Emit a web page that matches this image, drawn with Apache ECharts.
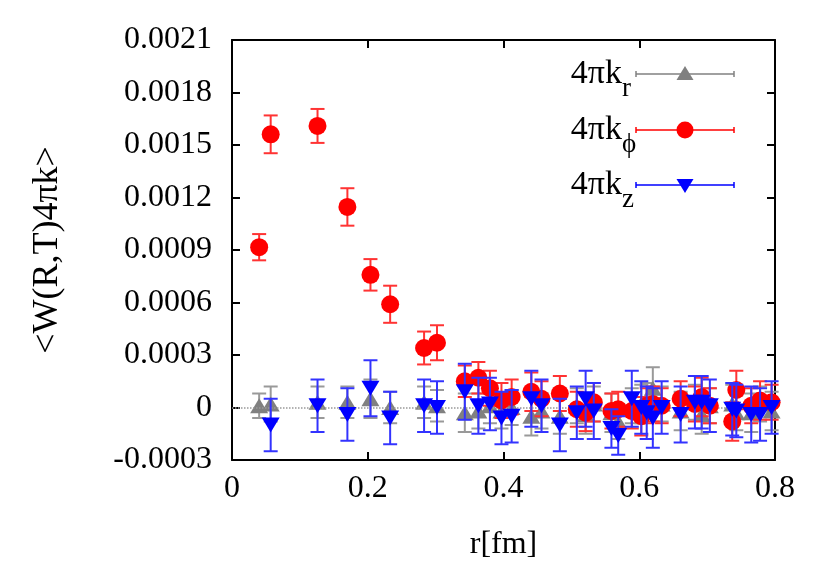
<!DOCTYPE html>
<html>
<head>
<meta charset="utf-8">
<script src="https://cdn.jsdelivr.net/npm/echarts@6/dist/echarts.min.js"></script>
<style>
  html, body { margin: 0; padding: 0; background: #fff; }
  .box { width: 830px; height: 566px; }
</style>
</head>
<body>
<div class="box"></div>
<script>
// r values (fm), shared by the three components
var rVals = [0.040, 0.057, 0.126, 0.170, 0.204, 0.233, 0.283, 0.302, 0.343, 0.363,
  0.380, 0.397, 0.412, 0.441, 0.456, 0.483, 0.508, 0.521, 0.533, 0.559,
  0.569, 0.589, 0.603, 0.611, 0.620, 0.633, 0.661, 0.682, 0.692, 0.704,
  0.737, 0.743, 0.765, 0.778, 0.795];

// 4πk_phi (red circles)
var kPhi = [0.000916, 0.001561, 0.001609, 0.001146, 0.000758, 0.000590, 0.000340, 0.000370, 0.000150, 0.000170,
  0.000110, 0.000040, 0.000060, 0.000090, 0.000050, 0.000080, -0.000010, -0.000030, 0.000030, -0.000020,
  -0.000010, -0.000020, -0.000050, 0.000010, 0.000020, 0.000010, 0.000050, 0.000020, 0.000060, 0.000010,
  -0.000080, 0.000100, 0.000010, 0.000040, 0.000030];
var kPhiErr = [0.000075, 0.000108, 0.000097, 0.000107, 0.000090, 0.000106, 0.000094, 0.000100, 0.000090, 0.000090,
  0.000100, 0.000100, 0.000100, 0.000110, 0.000100, 0.000100, 0.000100, 0.000105, 0.000110, 0.000100,
  0.000100, 0.000100, 0.000110, 0.000100, 0.000100, 0.000100, 0.000100, 0.000100, 0.000110, 0.000100,
  0.000110, 0.000110, 0.000100, 0.000110, 0.000100];

// 4πk_r (gray up triangles)
var kR = [0.000010, 0.000020, 0.000030, 0.000030, 0.000050, 0.000000, 0.000030, 0.000010, -0.000030, -0.000020,
  0.000010, -0.000020, 0.000000, -0.000050, -0.000020, -0.000050, 0.000010, -0.000040, 0.000020, -0.000030,
  -0.000080, 0.000010, 0.000020, 0.000040, 0.000110, 0.000020, -0.000020, 0.000030, -0.000040, 0.000010,
  0.000020, -0.000030, -0.000030, 0.000020, -0.000020];
var kRErr = [0.000070, 0.000100, 0.000090, 0.000090, 0.000110, 0.000090, 0.000090, 0.000090, 0.000110, 0.000100,
  0.000100, 0.000100, 0.000100, 0.000110, 0.000100, 0.000100, 0.000100, 0.000110, 0.000100, 0.000110,
  0.000100, 0.000100, 0.000110, 0.000100, 0.000120, 0.000100, 0.000110, 0.000100, 0.000110, 0.000100,
  0.000110, 0.000100, 0.000110, 0.000100, 0.000110];

// 4πk_z (blue down triangles)
var kZ = [null, -0.000100, 0.000010, -0.000040, 0.000110, -0.000060, 0.000010, 0.000000, 0.000090, 0.000010,
  0.000020, -0.000060, -0.000050, 0.000050, 0.000010, -0.000100, -0.000030, 0.000050, -0.000020, -0.000120,
  -0.000160, 0.000050, 0.000000, -0.000030, -0.000060, 0.000000, -0.000040, 0.000030, 0.000030, 0.000010,
  -0.000010, -0.000020, -0.000040, -0.000040, 0.000000];
var kZErr = [null, 0.000150, 0.000150, 0.000150, 0.000160, 0.000150, 0.000150, 0.000150, 0.000160, 0.000160,
  0.000150, 0.000150, 0.000150, 0.000160, 0.000150, 0.000150, 0.000150, 0.000160, 0.000160, 0.000110,
  0.000110, 0.000160, 0.000150, 0.000150, 0.000170, 0.000150, 0.000160, 0.000150, 0.000150, 0.000150,
  0.000150, 0.000150, 0.000160, 0.000150, 0.000150];

// axis ranges
var xMin = 0, xMax = 0.8, xStep = 0.2;
var yMin = -0.0003, yMax = 0.0021, yStep = 0.0003;

var fontFam = "'Liberation Serif', 'DejaVu Serif', serif";

function toData(vals, errs) {
  var out = [];
  for (var i = 0; i < rVals.length; i++) {
    if (vals[i] == null) continue;
    out.push([rVals[i], vals[i], errs[i]]);
  }
  return out;
}

// draws vertical error bar with caps
function errRender(color) {
  return function (params, api) {
    var x = api.value(0), y = api.value(1), e = api.value(2);
    var lo = api.coord([x, y - e]);
    var hi = api.coord([x, y + e]);
    var w = 7;
    var st = { stroke: color, lineWidth: 2 };
    return {
      type: 'group',
      children: [
        { type: 'line', shape: { x1: lo[0], y1: lo[1], x2: hi[0], y2: hi[1] }, style: st },
        { type: 'line', shape: { x1: lo[0] - w, y1: lo[1], x2: lo[0] + w, y2: lo[1] }, style: st },
        { type: 'line', shape: { x1: hi[0] - w, y1: hi[1], x2: hi[0] + w, y2: hi[1] }, style: st }
      ]
    };
  };
}

// legend row: text + sample line with caps + marker
function legendRow(y, sub, color, symbol) {
  var items = [
    { type: 'text', x: 622, y: y, style: { text: '4πk', font: '34px ' + fontFam, fill: '#000', textAlign: 'right', textVerticalAlign: 'middle' } },
    { type: 'text', x: 622, y: y + 15, style: { text: sub, font: '27px ' + fontFam, fill: '#000', textAlign: 'left', textVerticalAlign: 'middle' } },
    { type: 'line', shape: { x1: 636, y1: y, x2: 734, y2: y }, style: { stroke: color, lineWidth: 1.5 } },
    { type: 'line', shape: { x1: 636, y1: y - 3, x2: 636, y2: y + 3 }, style: { stroke: color, lineWidth: 1.5 } },
    { type: 'line', shape: { x1: 734, y1: y - 3, x2: 734, y2: y + 3 }, style: { stroke: color, lineWidth: 1.5 } }
  ];
  if (symbol === 'up') {
    items.push({ type: 'polygon', shape: { points: [[685, y - 8], [693.5, y + 6], [676.5, y + 6]] }, style: { fill: color } });
  } else if (symbol === 'down') {
    items.push({ type: 'polygon', shape: { points: [[685, y + 8], [693.5, y - 6], [676.5, y - 6]] }, style: { fill: color } });
  } else {
    items.push({ type: 'circle', shape: { cx: 685, cy: y, r: 8.5 }, style: { fill: color } });
  }
  return items;
}

var mychart = echarts.init(document.querySelector(".box"));

var axisLine = { show: true, onZero: false, lineStyle: { color: '#000', width: 2 } };
var tickIn = { show: true, inside: true, length: 8, lineStyle: { color: '#000', width: 2 } };

var option = {
  animation: false,
  grid: { left: 232, right: 55, top: 40, bottom: 102, containLabel: false },
  xAxis: [
    {
      type: 'value', min: xMin, max: xMax, interval: xStep,
      name: 'r[fm]', nameLocation: 'middle', nameGap: 69,
      nameTextStyle: { fontFamily: fontFam, fontSize: 32, color: '#000' },
      axisLine: axisLine, axisTick: tickIn,
      axisLabel: {
        fontFamily: fontFam, fontSize: 32, color: '#000', margin: 13,
        formatter: function (v) { return v === 0 ? '0' : v.toFixed(1); }
      },
      splitLine: { show: false }
    },
    {
      type: 'value', position: 'top', min: xMin, max: xMax, interval: xStep,
      axisLine: axisLine, axisTick: tickIn, axisLabel: { show: false }, splitLine: { show: false }
    }
  ],
  yAxis: [
    {
      type: 'value', min: yMin, max: yMax, interval: yStep,
      name: '<W(R,T)4πk>', nameLocation: 'middle', nameGap: 166, nameRotate: 90,
      nameTextStyle: { fontFamily: fontFam, fontSize: 36, color: '#000' },
      axisLine: axisLine, axisTick: tickIn,
      axisLabel: {
        fontFamily: fontFam, fontSize: 32, color: '#000', margin: 20,
        formatter: function (v) { return Math.abs(v) < 1e-12 ? '0' : v.toFixed(4); }
      },
      splitLine: { show: false }
    },
    {
      type: 'value', position: 'right', min: yMin, max: yMax, interval: yStep,
      axisLine: axisLine, axisTick: tickIn, axisLabel: { show: false }, splitLine: { show: false }
    }
  ],
  series: [
    {
      name: '4πk_r bars', type: 'custom', z: 2,
      renderItem: errRender('#999999'),
      data: toData(kR, kRErr),
      markLine: {
        silent: true, symbol: ['none', 'none'], label: { show: false },
        lineStyle: { color: '#999999', type: 'dotted', width: 1.5 },
        data: [{ yAxis: 0 }]
      }
    },
    {
      name: '4πk_r', type: 'scatter', z: 3,
      symbol: 'triangle', symbolSize: [18, 15],
      itemStyle: { color: '#808080', opacity: 1 },
      data: toData(kR, kRErr)
    },
    {
      name: '4πk_phi bars', type: 'custom', z: 4,
      renderItem: errRender('#ff3333'),
      data: toData(kPhi, kPhiErr)
    },
    {
      name: '4πk_phi', type: 'scatter', z: 5,
      symbol: 'circle', symbolSize: 18,
      itemStyle: { color: '#ff0000', opacity: 1 },
      data: toData(kPhi, kPhiErr)
    },
    {
      name: '4πk_z bars', type: 'custom', z: 6,
      renderItem: errRender('#3333ff'),
      data: toData(kZ, kZErr)
    },
    {
      name: '4πk_z', type: 'scatter', z: 7,
      symbol: 'triangle', symbolRotate: 180, symbolSize: [18, 15],
      itemStyle: { color: '#0000ff', opacity: 1 },
      data: toData(kZ, kZErr)
    }
  ],
  graphic: [].concat(
    legendRow(74, 'r', '#808080', 'up'),
    legendRow(130, 'ϕ', '#ff0000', 'circle'),
    legendRow(185, 'z', '#0000ff', 'down')
  )
};
mychart.setOption(option);
window.addEventListener("resize", function () {
  mychart.resize();
});
</script>
</body>
</html>
